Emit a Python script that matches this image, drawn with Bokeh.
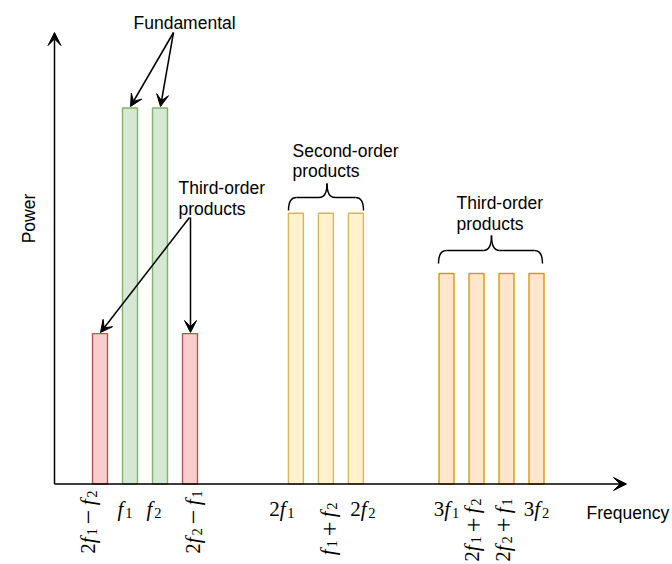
import math

from bokeh.core.properties import value
from bokeh.embed import file_html
from bokeh.models import Arrow, ColumnDataSource, Range1d, VeeHead
from bokeh.plotting import figure
from bokeh.resources import INLINE

# Spectrum lines: frequency slot and relative power of each component
im3_freq = [1.0, 4.0]                 # 2f1 - f2, 2f2 - f1
im3_power = [0.40, 0.40]
fund_freq = [2.0, 3.0]                # f1, f2
fund_power = [1.0, 1.0]
second_freq = [7.53, 8.53, 9.53]      # 2f1, f1 + f2, 2f2
second_power = [0.72, 0.72, 0.72]
third_freq = [12.55, 13.55, 14.55, 15.55]   # 3f1, 2f1 + f2, 2f2 + f1, 3f2
third_power = [0.56, 0.56, 0.56, 0.56]

# Frequency labels under the lines
upright_labels = ["f₁", "f₂", "2f₁", "2f₂", "3f₁", "3f₂"]
upright_at = [2.0, 3.0, 7.53, 9.53, 12.55, 15.55]
rotated_labels = ["2f₁ − f₂", "2f₂ − f₁", "f₁ + f₂", "2f₁ + f₂", "2f₂ + f₁"]
rotated_at = [1.0, 4.0, 8.53, 13.55, 14.55]

W, H = 672, 564
SLOT_PX = 30.0          # screen pixels per frequency slot
POWER_PX = 376.0        # screen pixels per unit power
BASE_PX = 483.5         # screen row of the zero-power line
X0 = 1.0 - 99.5 / SLOT_PX
Y0 = -(H - BASE_PX) / POWER_PX


def X(px):
    """Screen column -> frequency slot."""
    return X0 + px / SLOT_PX


def Y(py):
    """Screen row (from top) -> power."""
    return (BASE_PX - py) / POWER_PX


p = figure(
    width=W, height=H,
    x_range=Range1d(X0, X0 + W / SLOT_PX),
    y_range=Range1d(Y0, Y0 + H / POWER_PX),
    x_axis_type=None, y_axis_type=None,
    toolbar_location=None, output_backend="svg",
    min_border=0, outline_line_color=None,
    background_fill_color="white", border_fill_color="white",
)
p.xgrid.visible = False
p.ygrid.visible = False

BAR_W = 0.5
groups = [
    (im3_freq, im3_power, "#f8cecc", "#b85450"),
    (fund_freq, fund_power, "#d5e8d4", "#82b366"),
    (second_freq, second_power, "#fff2cc", "#d6b656"),
    (third_freq, third_power, "#ffe6cc", "#d79b00"),
]
for freq, power, fill, line in groups:
    p.vbar(x=freq, top=power, bottom=0, width=BAR_W,
           fill_color=fill, line_color=line, line_width=1.4)

# Axes drawn as arrows
axis_head = dict(size=13, fill_color="black", line_color="black", line_width=1)
p.add_layout(Arrow(end=VeeHead(**axis_head), x_start=X(54), y_start=0,
                   x_end=X(626), y_end=0, line_width=1.5, line_color="black"))
p.add_layout(Arrow(end=VeeHead(**axis_head), x_start=X(54), y_start=0,
                   x_end=X(54), y_end=Y(32), line_width=1.5, line_color="black"))

# ---- Math-style frequency labels: italic f, upright digits, real subscripts
MAIN = 21.0             # main glyph size, px
SUB = 14.5              # subscript size, px
OP = 26.0               # binary operator size, px
SUB_DROP = 4.0          # subscript baseline drop, px
OP_DROP = 1.2           # keeps the enlarged operator on the math axis
OP_GAP = 0.2 * MAIN     # space around binary operators, px
SUBSCRIPTS = {"₁": "1", "₂": "2"}


def pieces(label):
    """Split a label into (glyph, style, size, offset_along, drop) and its length."""
    chars = label.replace(" ", "")
    out, pos = [], 0.0
    for ch in chars:
        if ch in SUBSCRIPTS:
            out.append((SUBSCRIPTS[ch], "normal", SUB, pos, SUB_DROP))
            pos += 0.5 * SUB
        elif ch == "f":
            out.append(("f", "italic", MAIN, pos, 0.0))
            pos += 0.36 * MAIN
        elif ch in "−+":
            out.append((ch, "normal", OP, pos + OP_GAP, OP_DROP))
            pos += 0.564 * OP + 2 * OP_GAP
        else:
            out.append((ch, "normal", MAIN, pos, 0.0))
            pos += 0.5 * MAIN
    return out, pos


def label_source(labels, at, place):
    cols = dict(x=[], y=[], text=[], style=[], size=[], dx=[], dy=[])
    for i, (lab, fx) in enumerate(zip(labels, at)):
        parts, total = pieces(lab)
        for glyph, style, size, along, drop in parts:
            dx, dy = place(i, along, drop, total)
            cols["x"].append(fx)
            cols["y"].append(0.0)
            cols["text"].append(glyph)
            cols["style"].append(style)
            cols["size"].append(f"{size}px")
            cols["dx"].append(dx)
            cols["dy"].append(dy)
    return ColumnDataSource(cols)


MATH_FONT = value("Liberation Serif")

# horizontal labels: centred under the line, baseline 24.5 px below the axis
up_shift = [-5, -6, -14, 7, 0, 0]
up_src = label_source(
    upright_labels, upright_at,
    lambda i, a, d, t: (up_shift[i] - t / 2 + a, 24.5 + d))
p.text(x="x", y="y", text="text", x_offset="dx", y_offset="dy",
       text_font_style="style", text_font_size="size", source=up_src,
       text_align="left", text_baseline="alphabetic",
       text_font=MATH_FONT, text_color="black")

# vertical labels: read bottom-to-top, upper end just under the axis
rot_shift = [-11.5, 3.5, 3, -3.5, -3]
rot_top = [490, 490, 502, 498, 498]
rot_src = label_source(
    rotated_labels, rotated_at,
    lambda i, a, d, t: (rot_shift[i] - 1 + d, rot_top[i] + t - BASE_PX - a))
p.text(x="x", y="y", text="text", x_offset="dx", y_offset="dy",
       text_font_style="style", text_font_size="size", source=rot_src,
       angle=math.pi / 2, text_align="left", text_baseline="alphabetic",
       text_font=MATH_FONT, text_color="black")

# Axis titles and annotations
SANS = value("Liberation Sans")
note = dict(text_font=SANS, text_font_size="17.5px", text_color="black",
            text_baseline="alphabetic")
p.text(x=[X(586)], y=[Y(512)], text=["Frequency"], text_align="left", **note)
p.text(x=[X(28)], y=[Y(218)], text=["Power"], angle=math.pi / 2,
       text_align="center", **note)
p.text(x=[X(133)], y=[Y(22)], text=["Fundamental"], text_align="left", **note)
p.text(x=[X(178), X(178)], y=[Y(187), Y(208)],
       text=["Third-order", "products"], text_align="left", **note)
p.text(x=[X(292), X(292)], y=[Y(150), Y(170)],
       text=["Second-order", "products"], text_align="left", **note)
p.text(x=[X(456), X(456)], y=[Y(202), Y(223)],
       text=["Third-order", "products"], text_align="left", **note)

# Pointer arrows
head = dict(size=12, fill_color="black", line_color="black", line_width=1)
pointers = [
    ((173, 32), (130, 106)),
    ((173, 32), (160, 106)),
    ((189, 217), (100, 332)),
    ((190, 217), (190, 332)),
]
for (sx, sy), (ex, ey) in pointers:
    p.add_layout(Arrow(end=VeeHead(**head), x_start=X(sx), y_start=Y(sy),
                       x_end=X(ex), y_end=Y(ey), line_width=1.5,
                       line_color="black"))


def brace(x_left, x_right, y_end, y_flat, y_peak, x_mid, r=8):
    """Curly brace opening downward, as quadratic curves plus straight runs."""
    q = dict(x0=[], y0=[], x1=[], y1=[], cx=[], cy=[])
    s = dict(x0=[], y0=[], x1=[], y1=[])

    def quad(a, b, c):
        q["x0"].append(X(a[0])); q["y0"].append(Y(a[1]))
        q["x1"].append(X(b[0])); q["y1"].append(Y(b[1]))
        q["cx"].append(X(c[0])); q["cy"].append(Y(c[1]))

    def seg(a, b):
        s["x0"].append(X(a[0])); s["y0"].append(Y(a[1]))
        s["x1"].append(X(b[0])); s["y1"].append(Y(b[1]))

    quad((x_left, y_end), (x_left + r, y_flat), (x_left, y_flat))
    seg((x_left + r, y_flat), (x_mid - r, y_flat))
    quad((x_mid - r, y_flat), (x_mid, y_peak), (x_mid, y_flat))
    quad((x_mid + r, y_flat), (x_mid, y_peak), (x_mid, y_flat))
    seg((x_mid + r, y_flat), (x_right - r, y_flat))
    quad((x_right, y_end), (x_right - r, y_flat), (x_right, y_flat))

    p.quadratic(x0="x0", y0="y0", x1="x1", y1="y1", cx="cx", cy="cy",
                source=ColumnDataSource(q), line_color="black", line_width=1.5)
    p.segment(x0="x0", y0="y0", x1="x1", y1="y1",
              source=ColumnDataSource(s), line_color="black", line_width=1.5)


brace(288, 363, 210, 197, 183, 326.5)
brace(438, 542, 263, 250, 235, 491)

with open("out.html", "w") as f:
    f.write(file_html(p, INLINE))
